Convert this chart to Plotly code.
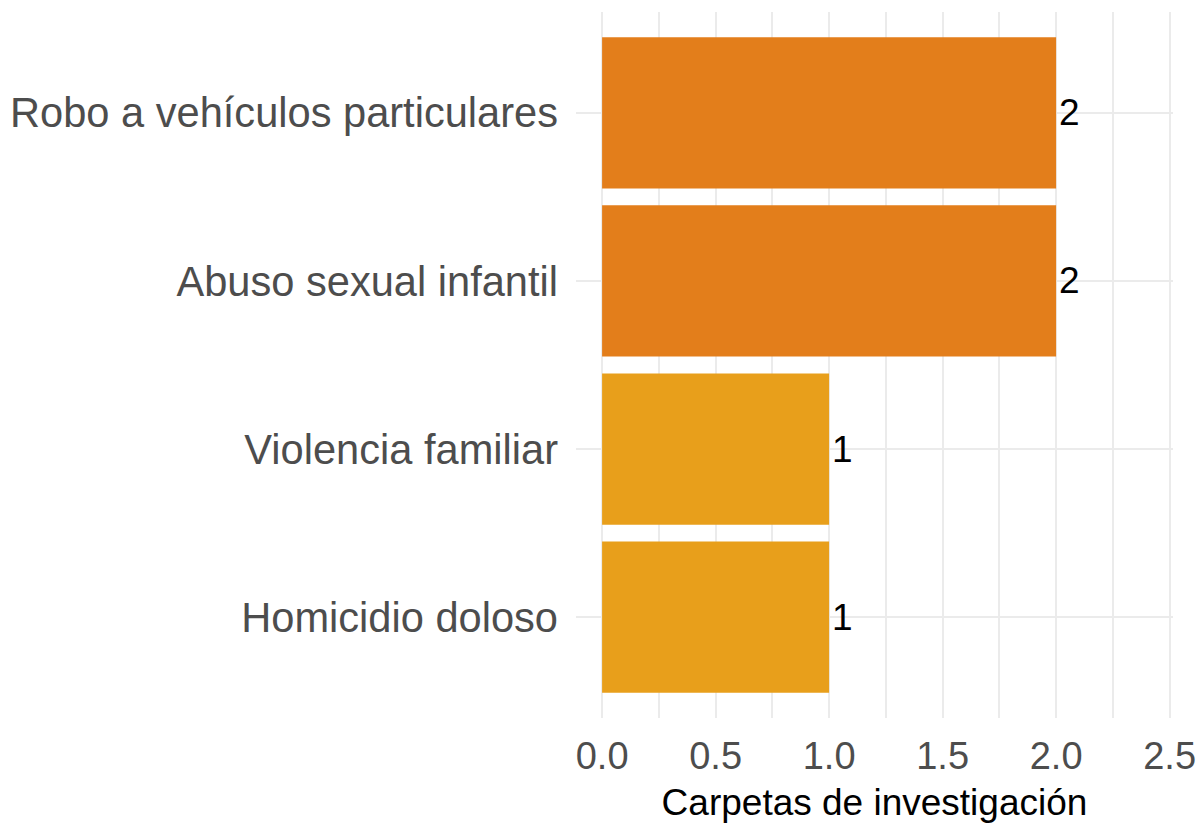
import plotly.graph_objects as go

# Categories listed bottom-to-top as they appear on the y axis
delitos = ["Homicidio doloso", "Violencia familiar", "Abuso sexual infantil",
           "Robo a vehículos particulares"]
carpetas = [1, 1, 2, 2]
colores = ["#E89F1B", "#E89F1B", "#E37E1B", "#E37E1B"]

x_ticks = [0.0, 0.5, 1.0, 1.5, 2.0, 2.5]
x_tick_text = ["0.0", "0.5", "1.0", "1.5", "2.0", "2.5"]

FONT = "Liberation Sans, Arial, sans-serif"
GRID = "#EBEBEB"

fig = go.Figure(
    go.Bar(
        x=carpetas,
        y=delitos,
        orientation="h",
        width=0.9,
        marker=dict(color=colores, line=dict(width=0)),
        texttemplate="%{x:.0f}",
        textposition="outside",
        constraintext="none",
        textfont=dict(family=FONT, size=37, color="#000000"),
        cliponaxis=False,
        hoverinfo="skip",
    )
)

fig.update_layout(
    width=1201,
    height=825,
    margin=dict(l=576, r=28, t=12, b=107),
    paper_bgcolor="white",
    plot_bgcolor="white",
    showlegend=False,
    font=dict(family=FONT),
)

fig.update_xaxes(
    range=[-0.115, 2.515],
    tickvals=x_ticks,
    ticktext=x_tick_text,
    tickfont=dict(family=FONT, size=38, color="#4D4D4D"),
    ticklabelstandoff=12,
    automargin=False,
    showgrid=True,
    gridcolor=GRID,
    gridwidth=2,
    minor=dict(dtick=0.25, tick0=0, showgrid=True, gridcolor=GRID, gridwidth=1.5),
    zeroline=False,
    showline=False,
    title=dict(text="Carpetas de investigación",
               font=dict(family=FONT, size=37, color="#000000"),
               standoff=13),
)

fig.update_yaxes(
    type="category",
    categoryorder="array",
    categoryarray=delitos,
    range=[-0.6, 3.6],
    tickfont=dict(family=FONT, size=41.6, color="#4D4D4D"),
    ticklabelstandoff=17,
    automargin=False,
    showgrid=True,
    gridcolor=GRID,
    gridwidth=2,
    zeroline=False,
    showline=False,
)

fig.write_html("out.html")
